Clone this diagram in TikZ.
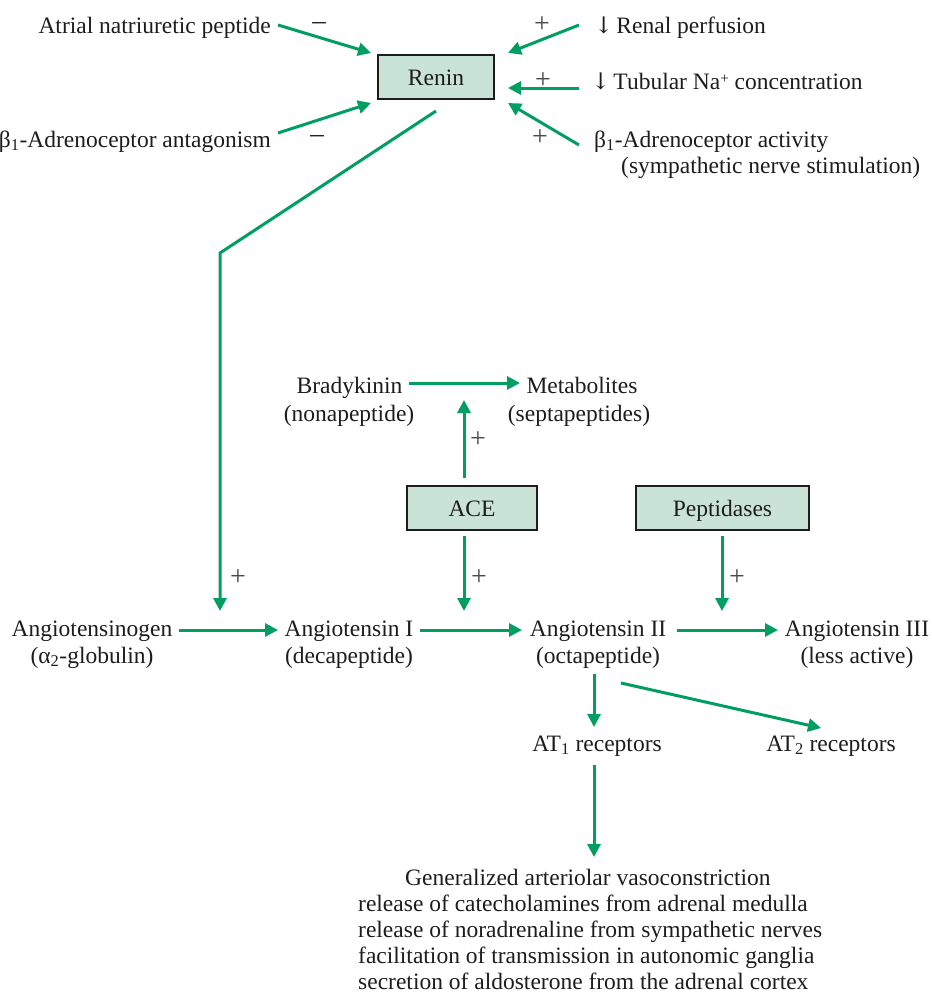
\documentclass[tikz,border=0pt]{standalone}
\usepackage{fontspec}
\setmainfont{Liberation Serif}
\newfontfamily\arrowfont{DejaVu Serif}
\usetikzlibrary{arrows.meta}
\definecolor{arrgreen}{RGB}{0,158,96}
\definecolor{boxfill}{RGB}{201,228,214}
\definecolor{ink}{RGB}{30,28,28}
\newcommand{\dnarrow}{{\arrowfont\fontsize{23}{28}\selectfont ↓}\hspace{3pt}}
\newcommand{\supplus}{\raisebox{6pt}{\fontsize{15}{15}\selectfont +}}
\tikzset{
  conn/.style={draw=arrgreen, line width=3pt, -{Triangle[length=13pt,width=13pt]}},
  lbl/.style={inner sep=0pt, anchor=base, text=ink, font=\fontsize{23.5}{28}\selectfont},
  lblw/.style={lbl, anchor=base west},
  lble/.style={lbl, anchor=base east},
  sign/.style={inner sep=0pt, text=ink!80, font=\fontsize{28}{30}\selectfont},
  minus/.style={inner sep=0pt, text=ink, font=\fontsize{27}{30}\selectfont},
  enzyme/.style={draw=ink, line width=2pt, fill=boxfill, inner sep=0pt}
}
\begin{document}
\begin{tikzpicture}[x=1pt,y=-1pt]
\useasboundingbox (0,0) rectangle (932,999);

% enzyme boxes
\node[enzyme, minimum width=116pt, minimum height=44pt] (renin) at (436,77) {};
\node[lbl] (reninT) at (436,85) {Renin};
\node[enzyme, minimum width=130pt, minimum height=44pt] (ace) at (472,508) {};
\node[lbl] (aceT) at (472,516) {ACE};
\node[enzyme, minimum width=173pt, minimum height=44pt] (pep) at (722.5,508) {};
\node[lbl] (pepT) at (722.5,516) {Peptidases};

% top left inputs
\node[lble] (anp) at (271,33) {Atrial natriuretic peptide};
\node[lble] (bant) at (271,147) {β\textsubscript{1}-Adrenoceptor antagonism};
\node[minus] (m1) at (319,26) {–};
\node[minus] (m2) at (317,139) {–};

% top right inputs
\node[lblw] (renal) at (594,33) {\dnarrow Renal perfusion};
\node[lblw] (tub) at (591,89) {\dnarrow Tubular Na\supplus{} concentration};
\node[lblw] (bact) at (594,147) {β\textsubscript{1}-Adrenoceptor activity};
\node[lblw] (symp) at (621,173) {(sympathetic nerve stimulation)};
\node[sign] (p1) at (542,25) {+};
\node[sign] (p2) at (543,81) {+};
\node[sign] (p3) at (540,138) {+};

% connector end points
\coordinate (anpS) at (278,25);
\coordinate (anpT) at (371,53);
\coordinate (bantS) at (278,133);
\coordinate (bantT) at (371,103);
\coordinate (renS) at (579,25);
\coordinate (renT) at (508,53);
\coordinate (tubS) at (579,88);
\coordinate (tubT) at (508,88);
\coordinate (bactS) at (579,145);
\coordinate (bactT) at (508,103);

\draw[conn] (anpS) -- (anpT);
\draw[conn] (bantS) -- (bantT);
\draw[conn] (renS) -- (renT);
\draw[conn] (tubS) -- (tubT);
\draw[conn] (bactS) -- (bactT);

% cascade row
\node[lbl] (agen) at (92,636) {Angiotensinogen};
\node[lbl] (agen2) at (92,663) {(α\textsubscript{2}-globulin)};
\node[lbl] (a1) at (349,636) {Angiotensin I};
\node[lbl] (a1b) at (349,663) {(decapeptide)};
\node[lbl] (a2) at (598,636) {Angiotensin II};
\node[lbl] (a2b) at (598,663) {(octapeptide)};
\node[lbl] (a3) at (857,636) {Angiotensin III};
\node[lbl] (a3b) at (857,663) {(less active)};

% bradykinin
\node[lbl] (brady) at (349.5,393) {Bradykinin};
\node[lbl] (brady2) at (349,421) {(nonapeptide)};
\node[lbl] (meta) at (582,393) {Metabolites};
\node[lbl] (meta2) at (579,421) {(septapeptides)};

% receptors
\node[lbl] (at1) at (597,751) {AT\textsubscript{1} receptors};
\node[lbl] (at2) at (831,751) {AT\textsubscript{2} receptors};

% effects
\node[lblw] (e1) at (405,885) {Generalized arteriolar vasoconstriction};
\node[lblw] (e2) at (358,911) {release of catecholamines from adrenal medulla};
\node[lblw] (e3) at (358,937) {release of noradrenaline from sympathetic nerves};
\node[lblw] (e4) at (358,963) {facilitation of transmission in autonomic ganglia};
\node[lblw] (e5) at (358,989) {secretion of aldosterone from the adrenal cortex};

% signs in cascade
\node[sign] (p4) at (238,578) {+};
\node[sign] (p5) at (478,440) {+};
\node[sign] (p6) at (479,578) {+};
\node[sign] (p7) at (737,578) {+};

% cascade connectors
\coordinate (renOut) at (436,111);
\coordinate (bend) at (220,253);
\coordinate (renT2) at (220,611);
\draw[conn] (renOut) -- (bend) -- (renT2);

\coordinate (agenE) at (179,630);
\coordinate (a1W) at (278,630);
\coordinate (a1E) at (420,630);
\coordinate (a2W) at (522,630);
\coordinate (a2E) at (677,630);
\coordinate (a3W) at (778,630);
\draw[conn] (agenE) -- (a1W);
\draw[conn] (a1E) -- (a2W);
\draw[conn] (a2E) -- (a3W);

\coordinate (aceD) at (464,536);
\coordinate (aceDT) at (464,611);
\coordinate (aceU) at (464,478);
\coordinate (aceUT) at (464,400);
\draw[conn] (aceD) -- (aceDT);
\draw[conn] (aceU) -- (aceUT);

\coordinate (pepD) at (722,536);
\coordinate (pepDT) at (722,611);
\draw[conn] (pepD) -- (pepDT);

\coordinate (bradyE) at (409,383);
\coordinate (metaW) at (520,383);
\draw[conn] (bradyE) -- (metaW);

\coordinate (a2S1) at (594,674);
\coordinate (at1N) at (594,727);
\coordinate (a2S2) at (621,683);
\coordinate (at2N) at (821,728);
\draw[conn] (a2S1) -- (at1N);
\draw[conn] (a2S2) -- (at2N);

\coordinate (at1S) at (594,765);
\coordinate (effN) at (594,857);
\draw[conn] (at1S) -- (effN);
\end{tikzpicture}
\end{document}
